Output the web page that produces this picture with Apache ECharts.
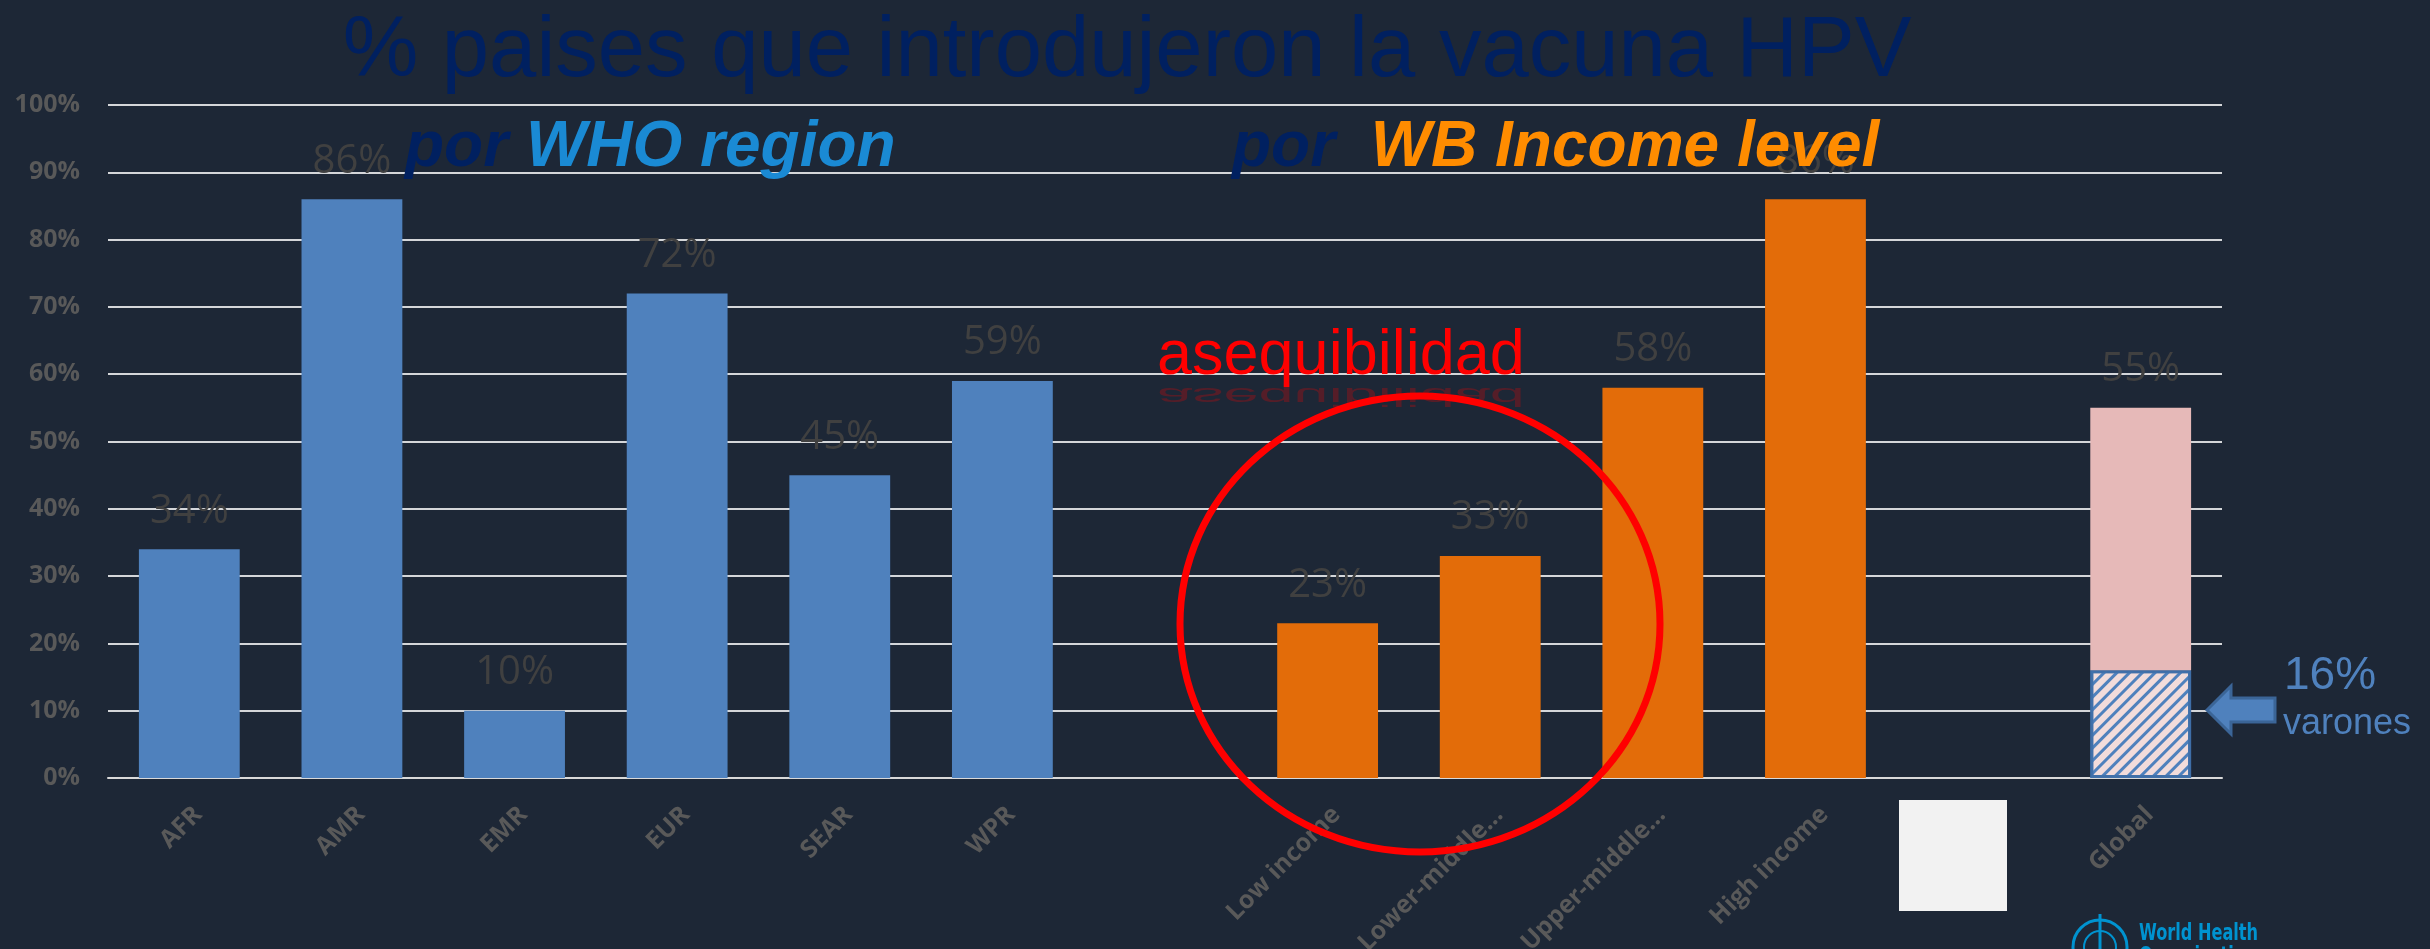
<!DOCTYPE html>
<html>
<head>
<meta charset="utf-8">
<script src="https://cdn.jsdelivr.net/npm/echarts@6/dist/echarts.min.js"></script>
<style>
  html, body { margin: 0; padding: 0; background: #1d2736; }
  #chart { width: 2430px; height: 949px; }
</style>
</head>
<body>
<div id="chart"></div>
<script>
// categories (blank slots separate the groups)
const categories = ['AFR', 'AMR', 'EMR', 'EUR', 'SEAR', 'WPR', '',
    'Low income', 'Lower-middle…', 'Upper-middle…', 'High income', '', 'Global'];
const whoRegion = [34, 86, 10, 72, 45, 59, '-', '-', '-', '-', '-', '-', '-'];
const incomeLevel = ['-', '-', '-', '-', '-', '-', '-', 23, 33, 58, 86, '-', '-'];
const globalMale = ['-', '-', '-', '-', '-', '-', '-', '-', '-', '-', '-', '-', 16];
const globalTotal = ['-', '-', '-', '-', '-', '-', '-', '-', '-', '-', '-', '-', 55];

const globalRest = globalTotal.map((v, i) => v === '-' ? '-' : v - globalMale[i]);

const labelStyle = {
    show: true,
    position: 'top',
    distance: 18,
    color: '#404040',
    fontFamily: 'Open Sans',
    fontSize: 40,
    lineHeight: 40,
    formatter: p => p.value + '%'
};

const chart = echarts.init(document.getElementById('chart'));

const option = {
    backgroundColor: '#1d2736',
    animation: false,
    grid: { left: 108, right: 208, top: 105, bottom: 171, outerBoundsMode: 'none' },
    xAxis: {
        type: 'category',
        data: categories,
        axisTick: { show: false },
        axisLine: { lineStyle: { color: '#d9d9d9', width: 2 } },
        axisLabel: {
            interval: 0,
            rotate: 45,
            margin: 24,
            verticalAlign: 'top',
            color: '#595959',
            fontFamily: 'Open Sans',
            fontWeight: 'bold',
            fontSize: 25
        }
    },
    yAxis: {
        type: 'value',
        min: 0,
        max: 100,
        interval: 10,
        axisLine: { show: false },
        axisTick: { show: false },
        splitLine: { lineStyle: { color: '#d4d6d9', width: 2 } },
        axisLabel: {
            formatter: '{value}%',
            margin: 28,
            color: '#595959',
            fontFamily: 'Open Sans',
            fontWeight: 'bold',
            fontSize: 25
        }
    },
    series: [
        {
            name: 'WHO region',
            type: 'bar',
            stack: 'all',
            barCategoryGap: '38%',
            data: whoRegion,
            itemStyle: { color: '#4f81bd' },
            label: labelStyle
        },
        {
            name: 'WB Income level',
            type: 'bar',
            stack: 'all',
            data: incomeLevel,
            itemStyle: { color: '#e36c09' },
            label: labelStyle
        },
        {
            name: 'varones',
            type: 'bar',
            stack: 'all',
            data: globalMale,
            itemStyle: {
                color: '#f2dcdb',
                borderColor: 'rgba(63,111,168,0.9)',
                borderWidth: 3,
                decal: {
                    symbol: 'rect',
                    dashArrayX: [1, 0],
                    dashArrayY: [3, 6],
                    rotation: -Math.PI / 4,
                    color: '#4f81bd'
                }
            }
        },
        {
            name: 'Global',
            type: 'bar',
            stack: 'all',
            data: globalRest,
            itemStyle: { color: '#e6b9b8' },
            label: Object.assign({}, labelStyle, {
                formatter: p => globalTotal[p.dataIndex] + '%'
            })
        }
    ],
    graphic: [
        {
            type: 'text', z: 100, x: 1127, y: 53,
            style: {
                text: '% paises que introdujeron la vacuna HPV',
                fill: '#002060', font: '85px "Liberation Sans", Arial, sans-serif',
                align: 'center', verticalAlign: 'middle'
            }
        },
        {
            type: 'text', z: 100, x: 405, y: 148,
            style: {
                text: '{a|por }{b|WHO region}',
                align: 'left', verticalAlign: 'middle',
                rich: {
                    a: { fill: '#002060', fontFamily: 'Liberation Sans', fontSize: 64, fontWeight: 'bold', fontStyle: 'italic' },
                    b: { fill: '#1a8ad4', fontFamily: 'Liberation Sans', fontSize: 64, fontWeight: 'bold', fontStyle: 'italic' }
                }
            }
        },
        {
            type: 'text', z: 100, x: 1232, y: 148,
            style: {
                text: '{a|por  }{b|WB Income level}',
                align: 'left', verticalAlign: 'middle',
                rich: {
                    a: { fill: '#002060', fontFamily: 'Liberation Sans', fontSize: 64, fontWeight: 'bold', fontStyle: 'italic' },
                    b: { fill: '#ff8c00', fontFamily: 'Liberation Sans', fontSize: 64, fontWeight: 'bold', fontStyle: 'italic' }
                }
            }
        },
        // asequibilidad + reflection
        {
            type: 'text', z: 100, x: 1157, y: 357,
            style: {
                text: 'asequibilidad', fill: '#ff0000',
                font: '63px "Liberation Sans", Arial, sans-serif',
                align: 'left', verticalAlign: 'middle'
            }
        },
        {
            type: 'text', z: 99, x: 1157, y: 382, scaleY: -0.4,
            style: {
                text: 'asequibilidad', fill: 'rgba(255,0,0,0.25)',
                font: '63px "Liberation Sans", Arial, sans-serif',
                align: 'left', verticalAlign: 'bottom'
            }
        },
        {
            type: 'ellipse', z: 100,
            shape: { cx: 1420, cy: 624, rx: 240, ry: 228 },
            style: { fill: 'none', stroke: '#ff0000', lineWidth: 7 }
        },
        // blank white box
        {
            type: 'rect', z: 100,
            shape: { x: 1899, y: 800, width: 108, height: 111 },
            style: { fill: '#f2f2f2' }
        },
        // arrow + varones note
        {
            type: 'polygon', z: 100,
            shape: { points: [[2207, 710], [2231, 686], [2231, 698], [2275, 698], [2275, 722], [2231, 722], [2231, 734]] },
            style: { fill: '#4f81bd', stroke: '#3b6597', lineWidth: 3 }
        },
        {
            type: 'text', z: 100, x: 2284, y: 676,
            style: { text: '16%', fill: '#4f81bd', font: '46px "Liberation Sans", Arial, sans-serif', align: 'left', verticalAlign: 'middle' }
        },
        {
            type: 'text', z: 100, x: 2283, y: 724,
            style: { text: 'varones', fill: '#4f81bd', font: '36px "Liberation Sans", Arial, sans-serif', align: 'left', verticalAlign: 'middle' }
        },
        // WHO logo
        {
            type: 'circle', z: 100,
            shape: { cx: 2100, cy: 947, r: 27 },
            style: { fill: 'none', stroke: '#0093d0', lineWidth: 3 }
        },
        {
            type: 'circle', z: 100,
            shape: { cx: 2100, cy: 947, r: 16 },
            style: { fill: 'none', stroke: '#0093d0', lineWidth: 2 }
        },
        {
            type: 'line', z: 100,
            shape: { x1: 2100, y1: 914, x2: 2100, y2: 949 },
            style: { stroke: '#0093d0', lineWidth: 3 }
        },
        {
            type: 'text', z: 100, x: 2139, y: 934, scaleX: 0.78,
            style: { text: 'World Health', fill: '#0093d0', font: 'bold 23px "DejaVu Sans Condensed", sans-serif', align: 'left', verticalAlign: 'middle' }
        },
        {
            type: 'text', z: 100, x: 2139, y: 946, scaleX: 0.78,
            style: { text: 'Organization', fill: '#0093d0', font: 'bold 23px "DejaVu Sans Condensed", sans-serif', align: 'left', verticalAlign: 'top' }
        }
    ]
};

chart.setOption(option);
</script>
</body>
</html>
